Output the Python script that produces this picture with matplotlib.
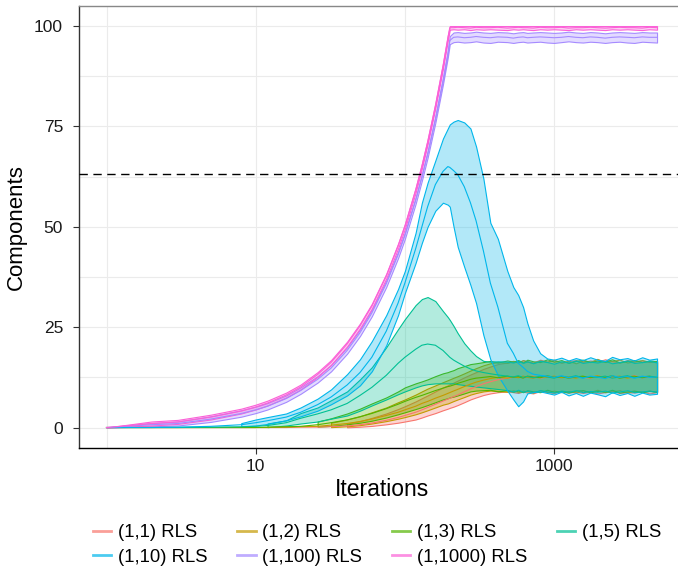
"""
Components vs. iterations for the (1,lambda) RLS runs: one band (lower/upper)
plus a mean line per setting, iterations on a log axis, dashed line at 1-1/e.

Usage:
    python plot.py

Outputs:
    out.png
"""

import matplotlib

matplotlib.use("Agg")
import matplotlib.pyplot as plt
import numpy as np
from matplotlib.colors import to_rgba
from matplotlib.lines import Line2D
from matplotlib.ticker import FixedLocator, NullFormatter

nan = np.nan

# Shared iteration grid (rows of 11 values)
ITERS = [
    1, 2, 3, 5, 8, 10, 12, 16, 20, 26, 32,
    41, 50, 60, 75, 90, 100, 118, 130, 142, 160, 180,
    194, 200, 212, 226, 250, 275, 300, 336, 374, 420, 486,
    533, 575, 620, 662, 724, 807, 900, 1000, 1120, 1250, 1400,
    1560, 1750, 1950, 2200, 2450, 2750, 3100, 3450, 3900, 4350, 4900,
]

# (1,1) RLS
P1_MEAN = [
    0, 0, 0, 0, 0, 0, 0, 0, 0.1, 0.1, 0.2,
    0.4, 0.7, 1.1, 1.8, 2.5, 3.0, 3.8, 4.4, 5.0, 5.8, 6.6,
    7.1, 7.3, 7.7, 8.1, 8.9, 9.6, 10.2, 10.9, 11.4, 11.9, 12.3,
    12.5, 12.7, 12.4, 12.6, 12.8, 12.3, 12.6, 12.5, 12.8, 12.4, 12.7,
    12.5, 12.3, 12.8, 12.6, 12.4, 12.7, 12.5, 12.9, 12.4, 12.6, 12.5,
]
P1_LO = [
    nan, nan, nan, nan, nan, nan, nan, nan, nan, nan, nan,
    0.05, 0.2, 0.4, 0.8, 1.2, 1.5, 2.0, 2.5, 3.0, 3.6, 4.3,
    4.7, 4.9, 5.2, 5.6, 6.3, 7.0, 7.5, 8.1, 8.5, 8.8, 9.0,
    8.8, 8.6, 9.0, 8.7, 8.5, 9.1, 8.8, 8.6, 9.0, 8.7, 8.9,
    8.6, 8.9, 8.5, 8.8, 9.1, 8.6, 8.8, 8.7, 9.0, 8.5, 8.8,
]
P1_HI = [
    nan, nan, nan, nan, nan, nan, nan, nan, nan, nan, nan,
    1.0, 1.6, 2.4, 3.5, 4.6, 5.3, 6.5, 7.3, 8.0, 9.0, 10.0,
    10.5, 10.8, 11.2, 11.7, 12.5, 13.2, 13.8, 14.6, 15.2, 15.8, 16.2,
    16.6, 16.3, 16.8, 16.5, 16.2, 16.9, 16.4, 16.7, 16.1, 16.6, 16.8,
    16.3, 16.7, 16.4, 17.0, 16.5, 16.2, 16.8, 16.4, 16.7, 16.3, 16.6,
]

# (1,2) RLS
P2_MEAN = [
    0, 0, 0, 0, 0, 0, 0, 0.1, 0.2, 0.3, 0.6,
    1.0, 1.5, 2.1, 3.0, 3.8, 4.4, 5.3, 6.0, 6.5, 7.3, 8.0,
    8.5, 8.7, 9.1, 9.5, 10.2, 10.8, 11.3, 11.8, 12.2, 12.5, 12.3,
    12.7, 12.4, 12.8, 12.5, 12.3, 12.7, 12.5, 12.8, 12.4, 12.6, 12.3,
    12.7, 12.5, 12.9, 12.4, 12.6, 12.8, 12.3, 12.6, 12.5, 12.8, 12.4,
]
P2_LO = [
    nan, nan, nan, nan, nan, nan, nan, nan, nan, nan, 0.1,
    0.3, 0.6, 1.0, 1.6, 2.2, 2.6, 3.3, 3.8, 4.3, 5.0, 5.7,
    6.0, 6.2, 6.6, 7.0, 7.6, 8.2, 8.6, 9.0, 9.2, 9.1, 8.9,
    9.3, 8.8, 9.2, 9.0, 8.7, 9.3, 8.9, 9.2, 8.8, 9.1, 8.7,
    9.2, 8.9, 9.4, 8.8, 9.0, 9.3, 8.7, 9.1, 8.9, 9.2, 8.8,
]
P2_HI = [
    nan, nan, nan, nan, nan, nan, nan, nan, nan, nan, 1.2,
    2.0, 2.8, 3.8, 5.0, 6.3, 7.0, 8.2, 9.0, 9.7, 10.5, 11.3,
    11.8, 12.0, 12.4, 12.8, 13.5, 14.2, 14.8, 15.5, 16.0, 16.3, 16.1,
    16.6, 16.2, 16.8, 16.4, 16.1, 16.7, 16.4, 16.9, 16.2, 16.6, 16.0,
    16.7, 16.4, 17.1, 16.3, 16.6, 16.9, 16.2, 16.5, 16.8, 16.4, 16.6,
]

# (1,3) RLS
P3_MEAN = [
    0, 0, 0, 0, 0, 0, 0.1, 0.2, 0.3, 0.7, 1.2,
    1.9, 2.7, 3.5, 4.7, 5.8, 6.5, 7.5, 8.0, 8.5, 9.2, 9.8,
    10.2, 10.3, 10.6, 11.0, 11.5, 12.0, 12.3, 12.5, 12.7, 12.4, 12.8,
    12.5, 12.7, 12.3, 12.8, 12.6, 12.4, 12.9, 12.5, 12.7, 12.3, 12.6,
    12.8, 12.4, 12.7, 12.5, 12.9, 12.3, 12.6, 12.8, 12.4, 12.7, 12.5,
]
P3_LO = [
    nan, nan, nan, nan, nan, nan, nan, nan, nan, 0.2, 0.4,
    0.8, 1.2, 1.7, 2.5, 3.3, 3.8, 4.6, 5.1, 5.6, 6.3, 7.0,
    7.3, 7.5, 7.7, 8.0, 8.5, 9.0, 9.2, 9.3, 9.4, 9.0, 9.3,
    8.9, 9.2, 8.8, 9.3, 9.0, 8.8, 9.4, 8.9, 9.1, 8.7, 9.2,
    9.3, 8.8, 9.1, 8.9, 9.4, 8.7, 9.0, 9.2, 8.8, 9.1, 8.9,
]
P3_HI = [
    nan, nan, nan, nan, nan, nan, nan, nan, nan, 1.5, 2.3,
    3.5, 4.7, 6.0, 7.5, 9.0, 10.0, 11.0, 11.5, 12.0, 12.8, 13.5,
    13.8, 14.0, 14.3, 14.8, 15.3, 15.8, 16.0, 16.3, 16.6, 16.2, 16.7,
    16.4, 16.8, 16.2, 16.9, 16.5, 16.3, 17.0, 16.4, 16.8, 16.1, 16.6,
    16.9, 16.3, 16.7, 16.4, 17.0, 16.2, 16.6, 16.8, 16.3, 16.7, 16.5,
]

# (1,5) RLS
P5_MEAN = [
    0, 0, 0, 0.1, 0.2, 0.3, 0.5, 1.2, 2.3, 3.4, 4.4,
    6.0, 8.0, 10.0, 13.0, 16.0, 17.5, 19.5, 20.5, 20.8, 20.5, 19.2,
    18.0, 17.5, 16.8, 16.2, 15.3, 14.6, 14.1, 13.7, 13.4, 13.1, 12.8,
    12.6, 12.9, 12.5, 12.7, 12.4, 12.8, 12.6, 12.3, 12.8, 12.5, 12.9,
    12.4, 12.7, 12.5, 12.8, 12.3, 12.6, 12.9, 12.4, 12.6, 12.8, 12.5,
]
P5_LO = [
    nan, nan, nan, nan, nan, nan, 0.1, 0.5, 1.0, 1.5, 2.2,
    3.0, 4.2, 5.5, 7.0, 8.3, 9.0, 10.0, 10.5, 10.8, 11.0, 11.0,
    11.0, 11.0, 11.0, 10.8, 10.6, 10.4, 10.2, 10.0, 9.8, 9.6, 9.3,
    9.0, 9.4, 8.9, 9.2, 8.8, 9.3, 9.0, 8.7, 9.2, 8.9, 9.3,
    8.8, 9.1, 8.9, 9.2, 8.7, 9.0, 9.3, 8.8, 9.0, 9.2, 8.9,
]
P5_HI = [
    nan, nan, nan, nan, nan, nan, 1.0, 1.8, 3.6, 5.0, 6.8,
    9.0, 12.0, 15.0, 20.0, 24.5, 27.0, 30.5, 32.0, 32.5, 31.5, 29.0,
    27.5, 26.8, 25.3, 23.5, 21.0, 19.2, 17.8, 16.6, 16.4, 16.5, 16.4,
    16.2, 16.6, 16.1, 16.5, 16.0, 16.6, 16.3, 15.9, 16.5, 16.2, 16.7,
    16.1, 16.4, 16.2, 16.6, 16.0, 16.3, 16.7, 16.1, 16.3, 16.6, 16.2,
]

# (1,10) RLS
P10_MEAN = [
    0, 0, 0.1, 0.3, 0.7, 1.2, 1.7, 2.6, 3.8, 5.7, 7.6,
    10.6, 13.7, 17.5, 24.0, 31.0, 36.0, 44.5, 50.0, 55.0, 60.5, 63.8,
    65.0, 64.8, 64.0, 63.0, 60.0, 56.0, 51.5, 44.0, 36.0, 30.0, 21.0,
    18.5, 16.0, 15.0, 14.0, 13.3, 13.0, 12.8, 12.5, 12.9, 12.4, 12.7,
    12.3, 12.8, 12.6, 12.2, 12.9, 12.5, 12.7, 12.3, 12.8, 12.5, 12.6,
]
P10_LO = [
    nan, nan, nan, nan, 0.3, 0.5, 0.9, 1.8, 2.8, 4.2, 5.8,
    8.0, 10.5, 14.0, 20.5, 28.0, 33.5, 41.0, 46.0, 50.0, 54.0, 56.0,
    55.5, 55.0, 50.0, 45.0, 40.0, 35.5, 31.0, 23.0, 17.0, 13.0, 9.2,
    7.0, 5.3, 6.5, 8.5, 8.8, 9.0, 8.6, 8.2, 8.9, 8.0, 8.6,
    7.9, 8.7, 8.3, 7.8, 8.8, 8.1, 8.6, 7.9, 8.7, 8.2, 8.4,
]
P10_HI = [
    nan, nan, nan, nan, 1.1, 2.0, 2.6, 3.5, 5.0, 7.2, 9.5,
    13.3, 17.0, 21.5, 28.0, 34.5, 39.0, 48.5, 56.0, 61.0, 66.5, 72.0,
    74.5, 75.5, 76.2, 76.6, 76.0, 74.5, 70.0, 62.0, 51.0, 47.0, 39.0,
    35.0, 33.0, 30.0, 26.0, 21.7, 18.5, 17.2, 16.9, 17.4, 16.7, 17.3,
    16.8, 17.5, 16.9, 16.6, 17.6, 17.0, 17.3, 16.7, 17.5, 16.9, 17.2,
]

# (1,100) RLS
P100_MEAN = [
    0, 0.7, 1.0, 2.1, 3.5, 4.4, 5.3, 7.2, 9.2, 12.0, 14.8,
    19.2, 23.6, 28.5, 35.8, 43.0, 47.8, 56.5, 62.3, 68.0, 76.7, 86.3,
    93.0, 96.4, 97.2, 97.3, 97.1, 97.2, 97.4, 97.2, 97.1, 97.3, 97.2,
    97.0, 97.2, 97.3, 97.1, 97.2, 97.3, 97.2, 97.1, 97.2, 97.4, 97.2,
    97.1, 97.3, 97.2, 97.0, 97.2, 97.3, 97.2, 97.1, 97.3, 97.2, 97.2,
]
P100_LO = [
    0, 0.3, 0.5, 1.4, 2.7, 3.6, 4.5, 6.4, 8.4, 11.2, 14.0,
    18.4, 22.8, 27.7, 35.0, 42.2, 47.0, 55.7, 61.5, 67.2, 75.9, 85.5,
    92.2, 95.5, 96.0, 96.1, 95.9, 96.0, 96.2, 95.9, 95.8, 96.1, 96.0,
    95.8, 96.0, 96.1, 95.9, 96.0, 96.1, 95.9, 95.8, 96.0, 96.2, 96.0,
    95.9, 96.1, 96.0, 95.8, 96.0, 96.1, 95.9, 95.8, 96.1, 96.0, 95.9,
]
P100_HI = [
    0, 1.1, 1.5, 2.8, 4.3, 5.2, 6.1, 8.0, 10.0, 12.8, 15.6,
    20.0, 24.4, 29.3, 36.6, 43.8, 48.6, 57.3, 63.1, 68.8, 77.5, 87.1,
    93.8, 97.5, 98.4, 98.5, 98.3, 98.4, 98.6, 98.4, 98.3, 98.5, 98.4,
    98.2, 98.4, 98.5, 98.3, 98.4, 98.5, 98.4, 98.3, 98.4, 98.6, 98.4,
    98.3, 98.5, 98.4, 98.2, 98.4, 98.5, 98.4, 98.3, 98.5, 98.4, 98.4,
]

# (1,1000) RLS
P1000_MEAN = [
    0, 1.0, 1.4, 2.6, 4.1, 5.1, 6.1, 8.1, 10.1, 13.2, 16.2,
    20.8, 25.3, 30.2, 37.7, 45.2, 50.1, 59.1, 65.1, 71.1, 80.1, 90.0,
    97.0, 99.6, 99.6, 99.7, 99.6, 99.5, 99.7, 99.6, 99.6, 99.7, 99.5,
    99.6, 99.7, 99.6, 99.6, 99.5, 99.7, 99.6, 99.6, 99.7, 99.5, 99.6,
    99.6, 99.7, 99.6, 99.5, 99.6, 99.7, 99.6, 99.6, 99.5, 99.7, 99.6,
]
P1000_LO = [
    0, 0.5, 0.9, 2.0, 3.5, 4.5, 5.5, 7.5, 9.5, 12.6, 15.6,
    20.2, 24.7, 29.6, 37.1, 44.6, 49.5, 58.5, 64.5, 70.5, 79.5, 89.3,
    96.3, 99.1, 99.2, 99.1, 99.2, 99.0, 99.2, 99.1, 99.2, 99.1, 99.0,
    99.2, 99.1, 99.2, 99.1, 99.0, 99.2, 99.1, 99.2, 99.1, 99.0, 99.2,
    99.1, 99.2, 99.1, 99.0, 99.2, 99.1, 99.2, 99.1, 99.0, 99.2, 99.1,
]
P1000_HI = [
    0, 1.5, 1.9, 3.2, 4.7, 5.7, 6.7, 8.7, 10.7, 13.8, 16.8,
    21.4, 25.9, 30.8, 38.3, 45.8, 50.7, 59.7, 65.7, 71.7, 80.7, 90.7,
    97.7, 100, 100, 100, 100, 100, 100, 100, 100, 100, 100,
    100, 100, 100, 100, 100, 100, 100, 100, 100, 100, 100,
    100, 100, 100, 100, 100, 100, 100, 100, 100, 100, 100,
]

LABELS = ["(1,1) RLS", "(1,2) RLS", "(1,3) RLS", "(1,5) RLS",
          "(1,10) RLS", "(1,100) RLS", "(1,1000) RLS"]
COLORS = ["#F8766D", "#C49A00", "#53B400", "#00C094",
          "#00B6EB", "#A58AFF", "#FB61D7"]
BANDS = [
    (P1_LO, P1_MEAN, P1_HI),
    (P2_LO, P2_MEAN, P2_HI),
    (P3_LO, P3_MEAN, P3_HI),
    (P5_LO, P5_MEAN, P5_HI),
    (P10_LO, P10_MEAN, P10_HI),
    (P100_LO, P100_MEAN, P100_HI),
    (P1000_LO, P1000_MEAN, P1000_HI),
]
THRESHOLD = 63.2  # 100 * (1 - 1/e)

W, H = 678, 566  # output size in px at dpi=100


def main() -> None:
    plt.rcParams["font.family"] = ["Liberation Sans", "DejaVu Sans"]

    fig = plt.figure(figsize=(W / 100, H / 100), dpi=100)
    # panel runs slightly past the right edge, like the source crop
    ax = fig.add_axes([79 / W, 118.4 / H, 605.6 / W, 441.6 / H])

    x = np.asarray(ITERS, dtype=float)
    for (lo, mean, hi), color in zip(BANDS, COLORS):
        assert len(lo) == len(mean) == len(hi) == len(x)
        ax.fill_between(x, np.asarray(lo, float), np.asarray(hi, float),
                        facecolor=to_rgba(color, 0.3), edgecolor=color,
                        linewidth=0.8, zorder=2)
        ax.plot(x, mean, color=color, lw=0.8, zorder=3)

    ax.axhline(THRESHOLD, color="black", lw=1.0, ls=(0, (6, 4)), zorder=4)

    ax.set_xscale("log")
    ax.set_xlim(10 ** -0.1845, 10 ** 3.875)
    ax.set_ylim(-5, 105)

    ax.xaxis.set_major_locator(FixedLocator([10, 1000]))
    ax.set_xticklabels(["10", "1000"])
    ax.xaxis.set_minor_locator(FixedLocator([1, 100, 10000]))
    ax.xaxis.set_minor_formatter(NullFormatter())
    ax.yaxis.set_major_locator(FixedLocator([0, 25, 50, 75, 100]))
    ax.yaxis.set_minor_locator(FixedLocator([12.5, 37.5, 62.5, 87.5]))

    ax.grid(which="both", color="#EBEBEB", lw=0.8)
    ax.set_axisbelow(True)

    ax.tick_params(which="major", length=4.5, width=0.8, color="#333333",
                   labelsize=12.5, labelcolor="#1a1a1a")
    ax.tick_params(which="minor", length=0)
    ax.tick_params(axis="y", pad=7)
    ax.tick_params(axis="x", pad=3.8)

    ax.spines["left"].set_color("#333333")
    ax.spines["bottom"].set_color("black")
    ax.spines["top"].set_color("#888888")
    for side in ("left", "bottom", "top"):
        ax.spines[side].set_linewidth(1.0)

    fig.text(382 / W, 1 - 490 / H, "Iterations", ha="center", va="center",
             fontsize=16.5)
    fig.text(16.5 / W, 1 - 227 / H, "Components", ha="center", va="center",
             rotation=90, fontsize=16)

    # ggplot fills the legend by row; matplotlib fills by column
    handles = [Line2D([], [], color=c, lw=2, alpha=0.7) for c in COLORS]
    order = [0, 4, 1, 5, 2, 6, 3]
    fig.legend([handles[i] for i in order], [LABELS[i] for i in order],
               ncol=4, loc="center", bbox_to_anchor=(377 / W, 1 - 545 / H),
               frameon=False, fontsize=13.3, handlelength=1.0,
               handletextpad=0.35, columnspacing=1.62, labelspacing=0.38,
               borderaxespad=0, borderpad=0)

    fig.savefig("out.png", dpi=100)
    plt.close(fig)


if __name__ == "__main__":
    main()
